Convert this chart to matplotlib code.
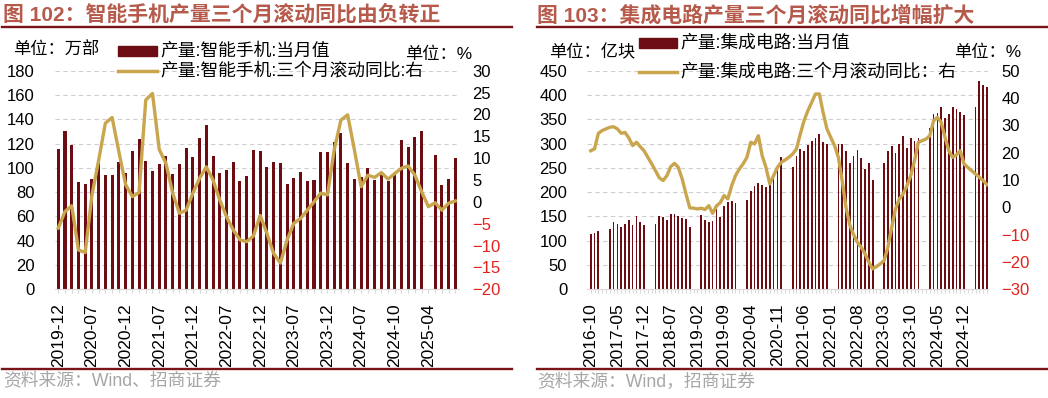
import numpy as np
import matplotlib
matplotlib.use('Agg')
import matplotlib.pyplot as plt
from matplotlib.patches import Rectangle
from matplotlib.lines import Line2D

nan = np.nan
W, H = 1048, 398

# ---- 图102 智能手机 (万部 / %) ----
phone_prod = [115.5, 130.6, 118.8, 88.3, 86.7, 90.6, 103.7, 94.4, 94, 104.8,
              96, 113.6, 123.8, 105.6, 97.7, 102.9, 110, 94.9, 102.9, 116.1,
              108.9, 124.6, 135.5, 110, 96, 98.5, 104.8, 89.2, 93.3, 115,
              114, 100.4, 105.1, 103.7, 86.4, 91.9, 96.6, 88.9, 90, 113.3,
              113, 121.3, 129, 104, 91.1, 92.5, 99.9, 90, 94.4, 89.4,
              96, 122.7, 116.9, 125.7, 130.1, nan, 110.6, 85.9, 91.1, 108.1]
phone_yoy = [-6, -2.2, -0.9, -11, -11.6, 1.5, 9.5, 18, 19.3, 11.5,
             4, 1.2, 2.1, 23.3, 24.8, 12, 8.8, 2, -2.6, -1.9,
             2, 5.4, 8, 5, 0.4, -3.4, -6.4, -8.7, -9.1, -7.8,
             -3.1, -7.2, -11.8, -14, -8.7, -4.9, -3.8, -1.9, 0, 2,
             1.6, 11.9, 18.7, 19.9, 11.9, 3.5, 6.1, 5.6, 6.7, 5.2,
             6.5, 7.7, 8.2, 6.1, 2.3, -1.1, -0.2, -1.9, -0.3, 0.2]
phone_ticks = ['2019-12', '2020-07', '2020-12', '2021-07', '2021-12', '2022-07',
               '2022-12', '2023-07', '2023-12', '2024-07', '2024-10', '2025-04']

# ---- 图103 集成电路 (亿块 / %), 2016-10 .. 2025-06, 1-2月无当月值 ----
ic_prod = [114, 115, 119,
           nan, nan, 124, 138, 135, 128, 135, 143, 132, 151, 139, 133,
           nan, nan, 135, 150, 149, 143, 155, 156, 150, 146, 144, 129,
           nan, nan, 152, 143, 138, 140, 165, 148, 171, 179, 182, 178,
           nan, nan, 184, 203, 213, 219, 214, 210, 219, 234, 255, 272,
           nan, nan, 251, 275, 289, 285, 298, 305, 312, 320, 303, 299,
           nan, nan, 299, 299, 285, 260, 274, 286, 270, 248, 260, 224,
           nan, nan, 259, 284, 294, 281, 299, 316, 291, 312, 306, 312,
           nan, nan, 333, 361, 362, 376, 353, 361, 375, 372, 366, 358,
           nan, nan, 375, 428, 420, 417]
ic_yoy = [20.7, 21.4, 27.1, 28.1, 28.7, 29.3, 29.5, 28.7, 27.1, 27.4,
          25.4, 22.6, 23.8, 22.2, 20.7, 18.3, 15.9, 13.4, 10.8, 9.8,
          11.6, 14.9, 16.1, 14.6, 10.4, 4.9, -0.2, -0.3, -0.6, -0.3,
          -0.8, 0.6, -2.2, 0.5, 1.7, 4.3, 3.1, 7.9, 11.6, 14,
          15.9, 18.3, 23.8, 23.2, 26.2, 18.9, 14.6, 8.6, 11.6, 14.6,
          16.5, 17.3, 18.3, 19.5, 21.4, 26.8, 31.7, 35.4, 38.4, 41.5,
          41.5, 34.7, 28.7, 25.6, 22.6, 18.3, 9.8, 0, -6.4, -10,
          -12.8, -14.6, -17, -20.1, -22.5, -21.7, -20.7, -19.5, -14.6, -7.3,
          -0.6, 3.1, 4.9, 7.9, 11.6, 17.1, 23.8, 24.4, 25, 26.2,
          31.7, 32.9, 31.1, 25.6, 20.7, 18.3, 19.2, 20.7, 15.9, 14.6,
          13.4, 12.2, 11, 9.8, 8.3]
ic_ticks = ['2016-10', '2017-05', '2017-12', '2018-07', '2019-02', '2019-09',
            '2020-04', '2020-11', '2021-06', '2022-01', '2022-08', '2023-03',
            '2023-10', '2024-05', '2024-12']

BAR = '#6B0D12'
GOLD = '#C9A54E'
TITLE_C = '#B65A4C'
RULE = '#7A1517'
NEG = '#E3221C'
GRID = '#CFCFCF'
plt.rcParams['font.family'] = ['Liberation Sans', 'Noto Sans CJK SC']


fig = plt.figure(figsize=(W / 100, H / 100), dpi=100)


def ftext(x, y, s, **kw):
    fig.text(x / W, 1 - y / H, s, **kw)


def hrule(x0, x1, y):
    fig.add_artist(Line2D([x0 / W, x1 / W], [1 - y / H] * 2, color=RULE, lw=1.7,
                          transform=fig.transFigure))


def panel(x0, x1, xlim, bars, line, ticks, step, ylim, yticks, y2lim, y2ticks):
    top, bot = 70.7, 289.3
    ax = fig.add_axes([x0 / W, 1 - bot / H, (x1 - x0) / W, (bot - top) / H])
    n = len(bars)
    x = np.arange(n)
    ax.bar(x, bars, width=0.45, color=BAR, zorder=2)
    ax.set_xlim(*xlim)
    ax.set_ylim(*ylim)
    ax.set_yticks(yticks)
    ax.grid(axis='y', color=GRID, lw=0.8, ls=(0, (4, 3)), zorder=0)
    for s in ['left', 'right', 'top']:
        ax.spines[s].set_visible(False)
    ax.spines['bottom'].set_color('#D9D9D9')
    ax.set_xticks(x)
    labels = [''] * n
    for k, t in enumerate(ticks):
        labels[k * step] = t
    ax.set_xticklabels(labels, rotation=90, fontsize=12.5)
    ax.tick_params(axis='x', length=3, color='#D9D9D9', pad=7)
    ax.tick_params(axis='y', length=0, pad=14.5, labelsize=12)

    ax2 = ax.twinx()
    ax2.plot(x, line, color=GOLD, lw=2.4, zorder=3)
    ax2.set_ylim(*y2lim)
    ax2.set_yticks(y2ticks)
    ax2.tick_params(axis='y', length=0, pad=10, labelsize=12)
    for s in ['left', 'right', 'top', 'bottom']:
        ax2.spines[s].set_visible(False)
    for v, lab in zip(y2ticks, ax2.get_yticklabels()):
        if v < 0:
            lab.set_color(NEG)
    return ax, ax2


# left panel
panel(54.9, 458.7, (-0.5, 59.5), phone_prod, phone_yoy, phone_ticks, 5,
      (0, 180), range(0, 181, 20), (-20, 30), list(range(-20, 31, 5)))
# right panel
panel(587.3, 987.7, (-0.9, 104.2), ic_prod, ic_yoy, ic_ticks, 7,
      (0, 450), range(0, 451, 50), (-30, 50), list(range(-30, 51, 10)))

# titles and rules
ftext(3, 14, '图 102：智能手机产量三个月滚动同比由负转正', fontsize=15,
      fontweight='bold', color=TITLE_C, va='center')
ftext(537, 15, '图 103：集成电路产量三个月滚动同比增幅扩大', fontsize=15,
      fontweight='bold', color=TITLE_C, va='center')
hrule(2, 512, 27.3)
hrule(537, 1048, 27.3)
hrule(2, 512, 369)
hrule(537, 1048, 369)
ftext(3, 382, '资料来源：Wind、招商证券', fontsize=12.8, color='#A6A6A6', va='center')
ftext(537, 382, '资料来源：Wind，招商证券', fontsize=12.8, color='#A6A6A6', va='center')

# unit labels
ftext(13, 50, '单位：万部', fontsize=12.4, va='center')
ftext(472, 54, '单位：%', fontsize=12.4, va='center', ha='right')
ftext(549, 52, '单位：亿块', fontsize=12.4, va='center')
ftext(1021, 52, '单位：%', fontsize=12.4, va='center', ha='right')

# legends
legends = [
    (118, 157, 51, 71, '产量:智能手机:当月值', '产量:智能手机:三个月滚动同比:右'),
    (639, 677, 43, 72, '产量:集成电路:当月值', '产量:集成电路:三个月滚动同比：右'),
]
for lx0, lx1, yb, yl, tb, tl in legends:
    fig.add_artist(Rectangle((lx0 / W, 1 - (yb + 5) / H), (lx1 - lx0) / W, 10 / H,
                             color=BAR, transform=fig.transFigure))
    fig.add_artist(Line2D([lx0 / W, lx1 / W], [1 - yl / H] * 2, color=GOLD, lw=2.5,
                          transform=fig.transFigure))
    ftext(lx1 + 3, yb, tb, fontsize=12.8, va='center')
    ftext(lx1 + 3, yl, tl, fontsize=12.8, va='center')

fig.savefig('out.png', dpi=100)
